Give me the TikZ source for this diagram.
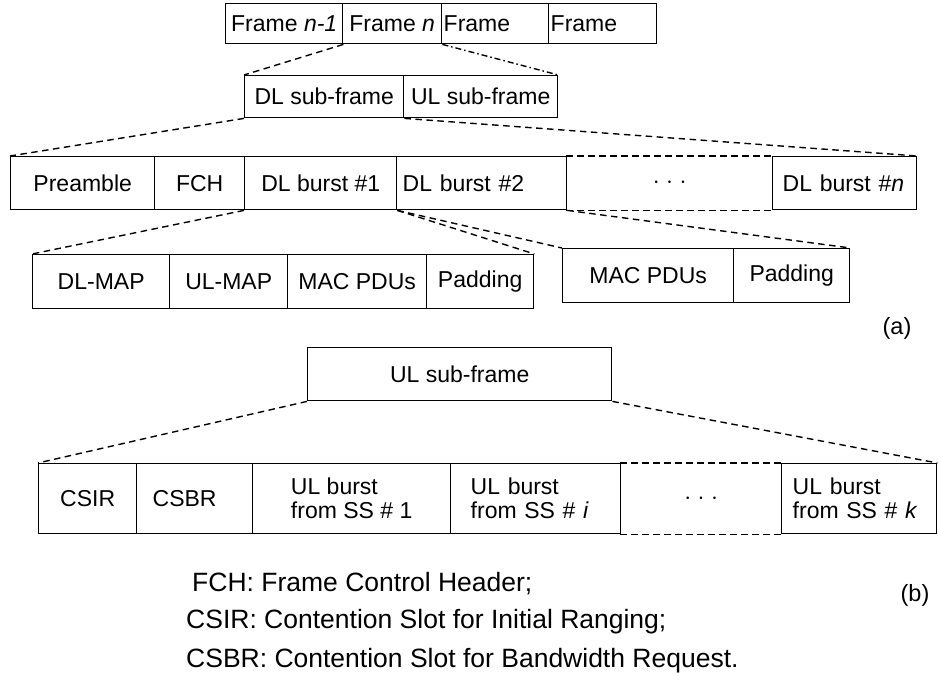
\documentclass[tikz,border=0pt]{standalone}
\usepackage{fontspec}
\setmainfont{Liberation Sans}
\newcommand{\threedots}{{\fontsize{30}{30}\selectfont$\cdot$\hspace{6.5pt}$\cdot$\hspace{6.5pt}$\cdot$}}
\begin{document}
\begin{tikzpicture}[x=1pt,y=-1pt,
  lw/.style={line width=1.4pt},
  cell/.style={draw, lw, rectangle, inner sep=0pt, anchor=north west,
    font=\fontsize{23}{24}\selectfont},
  hole/.style={cell, draw=none},
  dashline/.style={lw, dash pattern=on 6.5pt off 4.5pt},
  dashdotline/.style={lw, dash pattern=on 6pt off 3pt on 1.5pt off 3pt},
  note/.style={anchor=base west, inner sep=0pt, font=\fontsize{26.5}{30}\selectfont},
  tag/.style={inner sep=0pt, font=\fontsize{23.5}{26}\selectfont}
]
\useasboundingbox[fill=white] (0,0) rectangle (938,698);

% ---- frames
\node[cell, minimum width=117, minimum height=40] (f1) at (225,3) {Frame \textit{n-1}};
\node[cell, minimum width=99, minimum height=40] (f2) at (342,3) {Frame \textit{n}};
\node[cell, minimum width=107, minimum height=40, inner xsep=2, text width=103, align=left] (f3) at (441,3) {Frame};
\node[cell, minimum width=108, minimum height=40, inner xsep=2, text width=104, align=left] (f4) at (548,3) {Frame};

% ---- sub-frames
\node[cell, minimum width=159, minimum height=42] (dl) at (244,75) {DL sub-frame};
\node[cell, minimum width=154, minimum height=42] (ul) at (403,75) {UL sub-frame};

% ---- DL sub-frame content
\node[cell, minimum width=144, minimum height=53] (pre) at (10,156) {Preamble};
\node[cell, minimum width=90, minimum height=53] (fch) at (154,156) {FCH};
\node[cell, minimum width=152, minimum height=53] (b1) at (244,156) {DL burst \#1};
\node[cell, minimum width=170, minimum height=53, inner xsep=6, text width=158, align=left] (b2) at (396,156) {DL burst \#2};
\node[hole, minimum width=206, minimum height=53] (d1) at (566,156) {\threedots};
\node[cell, minimum width=144, minimum height=53, inner xsep=10, text width=124, align=left] (bn) at (772,156) {DL burst \#\textit{n}};
\draw[dashline] (d1.north west) -- (d1.north east);
\draw[dashline] (d1.south west) -- (d1.south east);

% ---- DL burst #1 content
\node[cell, minimum width=137, minimum height=54] (dlmap) at (32,254) {DL-MAP};
\node[cell, minimum width=118, minimum height=54] (ulmap) at (169,254) {UL-MAP};
\node[cell, minimum width=139, minimum height=54] (mac1) at (287,254) {MAC PDUs};
\node[cell, minimum width=107, minimum height=54] (pad1) at (426,254) {Padding};

% ---- DL burst #2 content
\node[cell, minimum width=171, minimum height=54] (mac2) at (562,248) {MAC PDUs};
\node[cell, minimum width=116, minimum height=54] (pad2) at (733,248) {Padding};

\node[tag] (ta) at (897,328) {(a)};

% ---- UL sub-frame
\node[cell, minimum width=304, minimum height=53] (usf) at (307,347) {UL sub-frame};

\node[cell, minimum width=98, minimum height=70] (csir) at (38,463) {CSIR};
\node[cell, minimum width=116, minimum height=70, inner xsep=16, text width=84, align=left] (csbr) at (136,463) {CSBR};
\node[cell, minimum width=198, minimum height=70, align=left] (u1) at (252,463) {UL burst\\from SS \# 1};
\node[cell, minimum width=170, minimum height=70, inner xsep=20, text width=130, align=left] (ui) at (450,463) {UL burst\\from SS \# \textit{i}};
\node[hole, minimum width=161, minimum height=70] (d2) at (620,463) {\threedots};
\node[cell, minimum width=155, minimum height=70, inner xsep=11, text width=133, align=left] (uk) at (781,463) {UL burst\\from SS \# \textit{k}};
\draw[dashline] (d2.north west) -- (d2.north east);
\draw[dashline] (d2.south west) -- (d2.south east);

% ---- connectors
\draw[dashline] (f1.south east) -- (dl.north west);
\draw[dashdotline] (f2.south east) -- (ul.north east);
\draw[dashline] (dl.south west) -- (pre.north west);
\draw[dashline] (dl.south east) -- (bn.north east);
\draw[dashline] (b1.south west) -- (dlmap.north west);
\draw[dashline] (b1.south east) -- (pad1.north east);
\draw[dashline] (b1.south east) -- (mac2.north west);
\draw[dashline] (b2.south east) -- (pad2.north east);
\draw[dashline] (usf.south west) -- (csir.north west);
\draw[dashline] (usf.south east) -- (uk.north east);

\node[tag] (tb) at (915,595) {(b)};

% ---- notes
\node[note] (n1) at (192,591) {FCH: Frame Control Header;};
\node[note] (n2) at (186,628) {CSIR: Contention Slot for Initial Ranging;};
\node[note] (n3) at (186,667) {CSBR: Contention Slot for Bandwidth Request.};
\end{tikzpicture}
\end{document}
